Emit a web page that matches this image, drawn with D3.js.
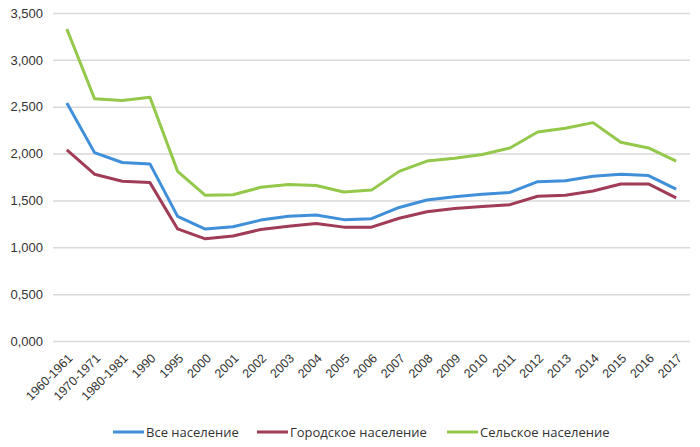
<!DOCTYPE html>
<html>
<head>
<meta charset="utf-8">
<script src="https://cdn.jsdelivr.net/npm/d3@7"></script>
<style>
  body { margin: 0; background: #fff; }
  svg { display: block; font-family: "Open Sans", "Noto Sans", sans-serif; }
</style>
</head>
<body>
<div id="wrapper"></div>
<script>
const categories = ["1960-1961", "1970-1971", "1980-1981", "1990", "1995", "2000", "2001", "2002", "2003", "2004", "2005", "2006", "2007", "2008", "2009", "2010", "2011", "2012", "2013", "2014", "2015", "2016", "2017"]
const allPopulation = [2.54, 2.01, 1.905, 1.89, 1.33, 1.195, 1.22, 1.29, 1.33, 1.345, 1.295, 1.305, 1.425, 1.505, 1.54, 1.565, 1.585, 1.70, 1.71, 1.757, 1.78, 1.765, 1.62]
const urbanPopulation = [2.04, 1.78, 1.705, 1.69, 1.196, 1.09, 1.12, 1.19, 1.224, 1.255, 1.215, 1.215, 1.31, 1.38, 1.415, 1.435, 1.455, 1.544, 1.555, 1.60, 1.676, 1.676, 1.527]
const ruralPopulation = [3.33, 2.585, 2.567, 2.60, 1.81, 1.555, 1.56, 1.64, 1.67, 1.66, 1.59, 1.61, 1.81, 1.92, 1.95, 1.99, 2.06, 2.23, 2.27, 2.33, 2.12, 2.06, 1.92]
const yTicks = [0, 0.5, 1, 1.5, 2, 2.5, 3, 3.5]
const seriesNames = ["Все население", "Городское население", "Сельское население"]
const seriesColors = ["#3f8fd9", "#a03c55", "#93c84a"]

async function drawLineChart() {
  const series = [allPopulation, urbanPopulation, ruralPopulation]

  let dimensions = {
    width: 700,
    height: 447,
    margin: { top: 13, right: 10, bottom: 106, left: 53 },
  }
  dimensions.boundedWidth = dimensions.width - dimensions.margin.left - dimensions.margin.right
  dimensions.boundedHeight = dimensions.height - dimensions.margin.top - dimensions.margin.bottom

  const wrapper = d3.select("#wrapper")
    .append("svg")
    .attr("width", dimensions.width)
    .attr("height", dimensions.height)

  const bounds = wrapper.append("g")
    .attr("transform", `translate(${dimensions.margin.left},${dimensions.margin.top})`)

  const xScale = d3.scalePoint()
    .domain(categories)
    .range([0, dimensions.boundedWidth])
    .padding(0.5)

  const yScale = d3.scaleLinear()
    .domain([0, 3.5])
    .range([dimensions.boundedHeight, 0])

  // gridlines + y labels
  const fmt = d => d3.format(".3f")(d).replace(".", ",")
  const yAxis = bounds.append("g")
    .call(d3.axisLeft(yScale)
      .tickValues(yTicks)
      .tickSize(-dimensions.boundedWidth)
      .tickPadding(10)
      .tickFormat(fmt))
  yAxis.select(".domain").remove()
  yAxis.selectAll(".tick line")
    .attr("stroke", "#d9d9d9")
    .attr("stroke-width", 1.5)
  yAxis.selectAll(".tick text")
    .attr("fill", "#333")
    .style("font-size", "13px")

  // x labels, rotated
  const xAxis = bounds.append("g")
    .attr("transform", `translate(0,${dimensions.boundedHeight})`)
    .call(d3.axisBottom(xScale).tickSize(0).tickPadding(0))
  xAxis.select(".domain").remove()
  xAxis.selectAll(".tick text")
    .attr("fill", "#333")
    .style("font-size", "12.5px")
    .attr("text-anchor", "end")
    .attr("dy", 0)
    .attr("transform", "translate(6,18) rotate(-45)")

  const lineGenerator = d3.line()
    .x((d, i) => xScale(categories[i]))
    .y(d => yScale(d))

  series.forEach((values, i) => {
    bounds.append("path")
      .attr("d", lineGenerator(values))
      .attr("fill", "none")
      .attr("stroke", seriesColors[i])
      .attr("stroke-width", 3)
      .attr("stroke-linejoin", "round")
  })

  // legend
  const legendX = [113, 257, 447]
  const legend = wrapper.append("g")
    .attr("transform", "translate(0,432)")
  seriesNames.forEach((name, i) => {
    const item = legend.append("g")
      .attr("transform", `translate(${legendX[i]},0)`)
    item.append("line")
      .attr("x1", 0).attr("x2", 31)
      .attr("stroke", seriesColors[i])
      .attr("stroke-width", 3)
    item.append("text")
      .attr("x", 33)
      .attr("dy", "0.35em")
      .attr("fill", "#333")
      .style("font-size", "13px")
      .text(name)
  })
}
drawLineChart()
</script>
</body>
</html>
